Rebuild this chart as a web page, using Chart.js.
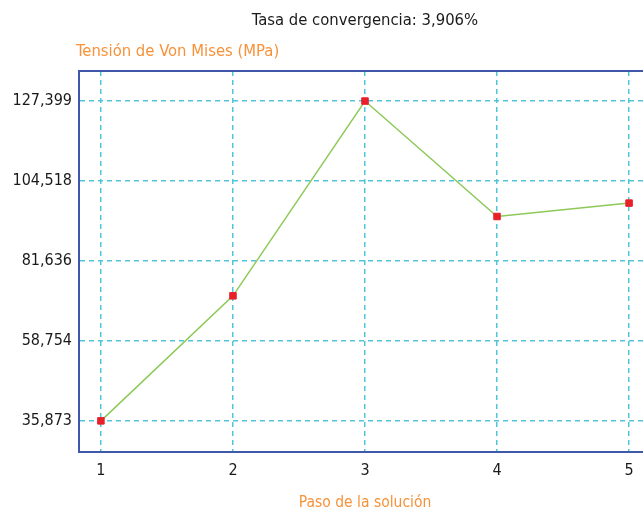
<!DOCTYPE html>
<html>
<head>
<meta charset="utf-8">
<script src="https://cdn.jsdelivr.net/npm/chart.js@4/dist/chart.umd.min.js"></script>
<style>
  html, body { margin: 0; padding: 0; overflow: hidden; background: #ffffff; }
  #wrap { width: 730px; height: 515px; }
</style>
</head>
<body>
<div id="wrap"><canvas id="c" width="730" height="515"></canvas></div>
<script>
// Convergence study: Von Mises stress at each solution step
const steps = [1, 2, 3, 4, 5];
const stress = [35.873, 71.66, 127.399, 94.36, 98.2];
const yTickValues = [35.873, 58.754, 81.636, 104.518, 127.399];
const xTickValues = [1, 2, 3, 4, 5];

const chartTitle = 'Tasa de convergencia: 3,906%';
const yAxisTitle = 'Tensión de Von Mises (MPa)';
const xAxisTitle = 'Paso de la solución';

const FONT = "'DejaVu Sans Condensed', 'DejaVu Sans', sans-serif";
const ORANGE = '#f7923a';
const GRID = '#52c5da';
const FRAME = '#4058ab';

const fmt = v => v.toFixed(3).replace('.', ',');

// top edge of the frame and the horizontal y-axis caption above the plot
const framePlugin = {
  id: 'frame',
  beforeDatasetsDraw(chart) {
    const { ctx, chartArea } = chart;
    ctx.save();
    ctx.strokeStyle = FRAME;
    ctx.lineWidth = 2;
    ctx.beginPath();
    ctx.moveTo(chartArea.left - 1, chartArea.top);
    ctx.lineTo(chartArea.right, chartArea.top);
    ctx.stroke();
    ctx.restore();
  },
  afterDraw(chart) {
    const { ctx, chartArea } = chart;
    ctx.save();
    ctx.fillStyle = ORANGE;
    ctx.font = "16.5px " + FONT;
    ctx.textAlign = 'left';
    ctx.textBaseline = 'middle';
    ctx.fillText(yAxisTitle, chartArea.left - 3, chartArea.top - 19);
    ctx.restore();
  }
};

new Chart(document.getElementById('c'), {
  type: 'line',
  data: {
    datasets: [{
      data: steps.map((s, i) => ({ x: s, y: stress[i] })),
      borderColor: '#8cc957',
      borderWidth: 1.5,
      pointStyle: 'rect',
      pointRadius: 4.6,
      pointBackgroundColor: '#e8202a',
      pointBorderColor: '#e8202a',
      pointBorderWidth: 1,
      tension: 0,
      clip: false
    }]
  },
  options: {
    responsive: false,
    animation: false,
    layout: { padding: { left: 0, right: 79, top: 0, bottom: 0 } },
    plugins: {
      legend: { display: false },
      tooltip: { enabled: false },
      title: {
        display: true,
        fullSize: false,   // centred over the plot area
        text: chartTitle,
        color: '#1a1a1a',
        font: { family: FONT, size: 16.5, weight: 'normal' },
        padding: { top: 11, bottom: 40.2 }
      }
    },
    scales: {
      x: {
        type: 'linear',
        min: 0.834,
        max: 5.166,
        afterBuildTicks: s => { s.ticks = xTickValues.map(v => ({ value: v })); },
        ticks: {
          color: '#1a1a1a',
          font: { family: FONT, size: 16 },
          padding: 10,
          callback: v => String(v)
        },
        grid: { color: GRID, lineWidth: 1.5, drawTicks: false },
        border: { display: true, color: FRAME, width: 2, dash: [5, 4] },
        title: {
          display: true,
          text: xAxisTitle,
          color: ORANGE,
          font: { family: FONT, size: 15.5 },
          padding: { top: 2.5, bottom: 3 }
        }
      },
      y: {
        type: 'linear',
        min: 27.05,
        max: 136.0,
        afterBuildTicks: s => { s.ticks = yTickValues.map(v => ({ value: v })); },
        afterFit: s => { s.width = 79; },
        ticks: {
          color: '#1a1a1a',
          font: { family: FONT, size: 16 },
          padding: 7,
          callback: v => fmt(v)
        },
        grid: { color: GRID, lineWidth: 1.5, drawTicks: false },
        border: { display: true, color: FRAME, width: 2, dash: [5, 4] }
      }
    }
  },
  plugins: [framePlugin]
});
</script>
</body>
</html>
